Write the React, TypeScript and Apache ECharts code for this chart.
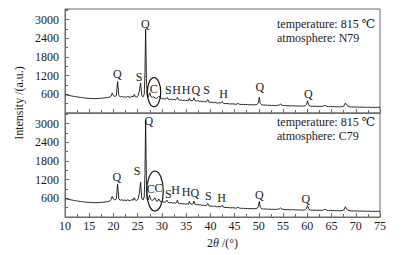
import React, { useEffect, useRef } from 'react';
import * as echarts from 'echarts';

// 2θ (deg), intensity (a.u.) — sample N79
const N79: [number, number][] = [
  [10,590],[10.4,578],[10.8,566],[11.2,552],[11.6,541],[12,530],[12.4,520],[12.8,510],[13.2,500],[13.6,492],[14,485],[14.4,476],[14.8,470],[15.2,466],[15.6,463],[16,462],[16.4,463],[16.8,466],[17.2,470],[17.6,476],[18,482],[18.4,490],[18.8,500],[19.2,512],[19.5,545],[19.75,640],[20.0,560],[20.3,530],[20.6,560],[20.85,1010],[21.1,560],[21.4,520],[21.7,535],[22.0,510],[22.3,525],[22.6,500],[22.9,530],[23.2,515],[23.5,505],[23.8,540],[24.1,520],[24.3,600],[24.5,520],[24.8,510],[25.1,560],[25.35,700],[25.6,960],[25.85,560],[26.1,520],[26.35,600],[26.5,1300],[26.64,2690],[26.8,1100],[26.95,560],[27.2,520],[27.5,650],[27.75,530],[28.0,500],[28.3,520],[28.6,480],[28.9,470],[29.2,500],[29.45,540],[29.7,480],[30.0,450],[30.3,470],[30.6,445],[30.9,470],[31.1,500],[31.3,440],[31.6,430],[31.9,450],[32.2,425],[32.5,440],[32.8,420],[33.0,445],[33.2,500],[33.4,430],[33.7,410],[34.0,420],[34.3,400],[34.6,415],[34.9,395],[35.2,410],[35.5,400],[35.65,470],[35.9,405],[36.2,390],[36.5,430],[36.6,490],[36.8,400],[37.1,385],[37.4,395],[37.7,375],[38.0,380],[38.3,365],[38.6,375],[38.9,355],[39.2,365],[39.45,430],[39.7,350],[40.0,340],[40.3,350],[40.6,330],[40.9,345],[41.2,325],[41.5,320],[41.8,330],[42.1,315],[42.45,370],[42.7,310],[43.0,300],[43.4,305],[43.8,295],[44.2,290],[44.6,295],[45.0,285],[45.4,280],[45.7,310],[46.0,280],[46.4,272],[46.8,278],[47.2,268],[47.6,272],[48.0,262],[48.4,268],[48.8,258],[49.2,265],[49.6,270],[49.9,330],[50.1,510],[50.3,300],[50.6,262],[51.0,250],[51.4,255],[51.8,245],[52.2,250],[52.6,240],[53.0,246],[53.4,238],[53.8,245],[54.2,255],[54.5,285],[54.8,250],[55.2,238],[55.6,232],[56.0,240],[56.4,230],[56.8,226],[57.2,234],[57.6,224],[58.0,228],[58.4,220],[58.8,226],[59.2,218],[59.6,235],[59.85,280],[60.05,390],[60.3,250],[60.6,222],[61.0,215],[61.4,220],[61.8,212],[62.2,218],[62.6,210],[63.0,215],[63.4,225],[63.7,245],[64.0,215],[64.4,205],[64.8,210],[65.2,202],[65.6,206],[66.0,198],[66.4,203],[66.8,196],[67.2,205],[67.6,230],[67.85,320],[68.1,260],[68.4,215],[68.8,198],[69.2,192],[69.6,196],[70.0,188],[70.4,193],[70.8,186],[71.2,190],[71.6,183],[72.0,188],[72.4,181],[72.8,186],[73.2,180],[73.6,184],[74.0,178],[74.5,182],[75,178]
];

// sample C79
const C79: [number, number][] = [
  [10,590],[10.4,578],[10.8,565],[11.2,552],[11.6,540],[12,528],[12.4,517],[12.8,507],[13.2,498],[13.6,490],[14,483],[14.4,476],[14.8,470],[15.2,466],[15.6,462],[16,460],[16.4,461],[16.8,463],[17.2,466],[17.6,470],[18,476],[18.4,484],[18.8,495],[19.2,510],[19.5,560],[19.75,660],[20.0,580],[20.3,545],[20.6,580],[20.85,1050],[21.1,580],[21.4,540],[21.7,555],[22.0,530],[22.3,545],[22.6,525],[22.9,550],[23.2,535],[23.5,525],[23.8,560],[24.1,540],[24.3,620],[24.5,545],[24.8,530],[25.1,590],[25.35,760],[25.6,1120],[25.85,600],[26.1,545],[26.35,640],[26.5,1400],[26.64,3100],[26.8,1200],[26.95,600],[27.2,550],[27.45,700],[27.7,560],[28.0,530],[28.3,560],[28.55,620],[28.8,520],[29.1,500],[29.35,580],[29.6,510],[29.9,480],[30.2,495],[30.5,470],[30.8,490],[31.05,540],[31.3,470],[31.6,455],[31.9,470],[32.2,445],[32.5,460],[32.8,440],[33.0,465],[33.2,540],[33.4,445],[33.7,425],[34.0,435],[34.3,415],[34.6,430],[34.9,410],[35.2,425],[35.5,415],[35.65,500],[35.9,420],[36.2,405],[36.5,440],[36.6,510],[36.8,410],[37.1,395],[37.4,405],[37.7,385],[38.0,390],[38.3,372],[38.6,382],[38.9,362],[39.2,372],[39.45,440],[39.7,360],[40.0,348],[40.3,356],[40.6,338],[40.9,350],[41.2,332],[41.5,326],[41.8,336],[42.1,320],[42.45,380],[42.7,315],[43.0,305],[43.4,310],[43.8,300],[44.2,294],[44.6,300],[45.0,290],[45.4,285],[45.7,320],[46.0,284],[46.4,276],[46.8,282],[47.2,272],[47.6,276],[48.0,266],[48.4,272],[48.8,262],[49.2,268],[49.6,275],[49.9,340],[50.1,500],[50.3,305],[50.6,266],[51.0,254],[51.4,259],[51.8,248],[52.2,254],[52.6,243],[53.0,249],[53.4,240],[53.8,248],[54.2,258],[54.5,290],[54.8,252],[55.2,240],[55.6,234],[56.0,242],[56.4,232],[56.8,228],[57.2,236],[57.6,226],[58.0,230],[58.4,222],[58.8,228],[59.2,220],[59.6,238],[59.85,285],[60.05,370],[60.3,252],[60.6,224],[61.0,217],[61.4,222],[61.8,214],[62.2,220],[62.6,212],[63.0,217],[63.4,228],[63.7,250],[64.0,217],[64.4,207],[64.8,212],[65.2,204],[65.6,208],[66.0,200],[66.4,205],[66.8,198],[67.2,207],[67.6,235],[67.85,330],[68.1,265],[68.4,217],[68.8,200],[69.2,194],[69.6,198],[70.0,190],[70.4,195],[70.8,188],[71.2,192],[71.6,185],[72.0,190],[72.4,183],[72.8,188],[73.2,182],[73.6,186],[74.0,180],[74.5,184],[75,180]
];

// phase labels: [phase, 2θ, intensity]
const PEAKS_N79: [string, number, number][] = [
  ['Q', 20.8, 1258], ['S', 25.3, 1153], ['Q', 26.6, 2850], ['C', 28.3, 780],
  ['S', 31.3, 726], ['H', 33.0, 726], ['H', 35.0, 726], ['Q', 37.0, 726],
  ['S', 39.2, 750], ['H', 42.7, 620], ['Q', 50.2, 835], ['Q', 60.2, 610],
];
const PEAKS_C79: [string, number, number][] = [
  ['Q', 20.7, 1294], ['S', 24.9, 1475], ['Q', 27.3, 3075], ['C', 27.7, 885],
  ['C', 29.3, 940], ['S', 31.3, 725], ['H', 32.8, 863], ['H', 35.0, 800],
  ['Q', 36.8, 780], ['S', 39.6, 670], ['H', 42.3, 618], ['Q', 50.1, 692], ['Q', 59.7, 586],
];
// circled regions (centre in data coords)
const RING_N79: [number, number] = [28.37, 669];
const RING_C79: [number, number] = [28.57, 831];

const TITLE_N79 = ['temperature: 815 ℃', 'atmosphere: N79'];
const TITLE_C79 = ['temperature: 815 ℃', 'atmosphere: C79'];

const FONT = '"Times New Roman", "Liberation Serif", "DejaVu Serif", serif';
const TXT = '#1a1a1a';
const AX = '#6b6b6b';

export default function App() {
  const ref = useRef<HTMLDivElement>(null);
  useEffect(() => {
    if (!ref.current) return;
    const chart = echarts.init(ref.current, null, { renderer: 'svg' });

    const xAxis = (gi: number, labels: boolean) => ({
      type: 'value', gridIndex: gi, min: 10, max: 75, interval: 5,
      axisLine: { show: true, lineStyle: { color: AX, width: 1 } },
      axisTick: { show: true, inside: true, length: 4, lineStyle: { color: AX } },
      minorTick: { show: true, splitNumber: 2, length: 3, lineStyle: { color: AX } },
      splitLine: { show: false },
      axisLabel: { show: labels, fontFamily: FONT, fontSize: 12, color: TXT, margin: 3 },
      name: labels ? '2{i|θ} /(°)' : '',
      nameLocation: 'middle', nameGap: 20,
      nameTextStyle: { fontFamily: FONT, fontSize: 12, color: TXT, rich: { i: { fontStyle: 'italic', fontFamily: FONT, fontSize: 12, color: TXT } } },
    });
    const yAxis = (gi: number) => ({
      type: 'value', gridIndex: gi, min: 0, max: 3340, interval: 600,
      axisLine: { show: true, lineStyle: { color: AX, width: 1 } },
      axisTick: { show: true, inside: true, length: 4, lineStyle: { color: AX } },
      minorTick: { show: true, splitNumber: 2, length: 3, lineStyle: { color: AX } },
      splitLine: { show: false },
      axisLabel: {
        fontFamily: FONT, fontSize: 12, color: TXT, margin: 6,
        formatter: (v: number) => (v > 0 && v % 600 === 0 ? String(v) : ''),
      },
    });
    const line = (gi: number, data: [number, number][]) => ({
      type: 'line', xAxisIndex: gi, yAxisIndex: gi, data, symbol: 'none',
      lineStyle: { color: '#111', width: 0.9 }, silent: true,
    });
    const labels = (gi: number, peaks: [string, number, number][]) => ({
      type: 'custom', xAxisIndex: gi, yAxisIndex: gi, silent: true,
      data: peaks.map(([n, x, y]) => [x, y, n]),
      dimensions: ['x', 'y', { name: 'n', type: 'ordinal' }],
      renderItem: (p: any, api: any) => {
        const pt = api.coord([api.value(0), api.value(1)]);
        return {
          type: 'text', x: pt[0], y: pt[1],
          style: {
            text: peaks[p.dataIndex][0], fontFamily: FONT, fontSize: 12, fill: TXT,
            align: 'center', verticalAlign: 'middle',
          },
        };
      },
    });
    const ring = (gi: number, c: [number, number], rx: number, ry: number) => ({
      type: 'custom', xAxisIndex: gi, yAxisIndex: gi, silent: true,
      data: [c],
      renderItem: (_p: any, api: any) => {
        const pt = api.coord([api.value(0), api.value(1)]);
        return {
          type: 'ellipse',
          shape: { cx: pt[0], cy: pt[1], rx, ry },
          style: { fill: 'none', stroke: '#111', lineWidth: 1.2 },
        };
      },
    });
    const tstyle = { fontFamily: FONT, fontSize: 12, fill: TXT };

    chart.setOption({
      animation: false,
      backgroundColor: '#fff',
      grid: [
        { left: 65, top: 9, width: 315, height: 104, show: true, borderColor: AX, borderWidth: 1 },
        { left: 65, top: 113, width: 315, height: 104, show: true, borderColor: AX, borderWidth: 1 },
      ],
      xAxis: [xAxis(0, false), xAxis(1, true)],
      yAxis: [yAxis(0), yAxis(1)],
      series: [
        line(0, N79), line(1, C79),
        labels(0, PEAKS_N79), labels(1, PEAKS_C79),
        ring(0, RING_N79, 6.7, 14.5), ring(1, RING_C79, 8.3, 20),
      ],
      graphic: [
        { type: 'text', left: 277, top: 18, style: { ...tstyle, text: TITLE_N79[0] } },
        { type: 'text', left: 277, top: 32, style: { ...tstyle, text: TITLE_N79[1] } },
        { type: 'text', left: 277, top: 116, style: { ...tstyle, text: TITLE_C79[0] } },
        { type: 'text', left: 277, top: 130, style: { ...tstyle, text: TITLE_C79[1] } },
        {
          type: 'text', x: 19, y: 103, rotation: Math.PI / 2,
          style: { ...tstyle, text: 'Intensity /(a.u.)', align: 'center', verticalAlign: 'middle' },
        },
      ],
    });
    return () => chart.dispose();
  }, []);
  return <div ref={ref} style={{ position: 'fixed', left: 0, top: 0, width: 406, height: 255 }} />;
}
